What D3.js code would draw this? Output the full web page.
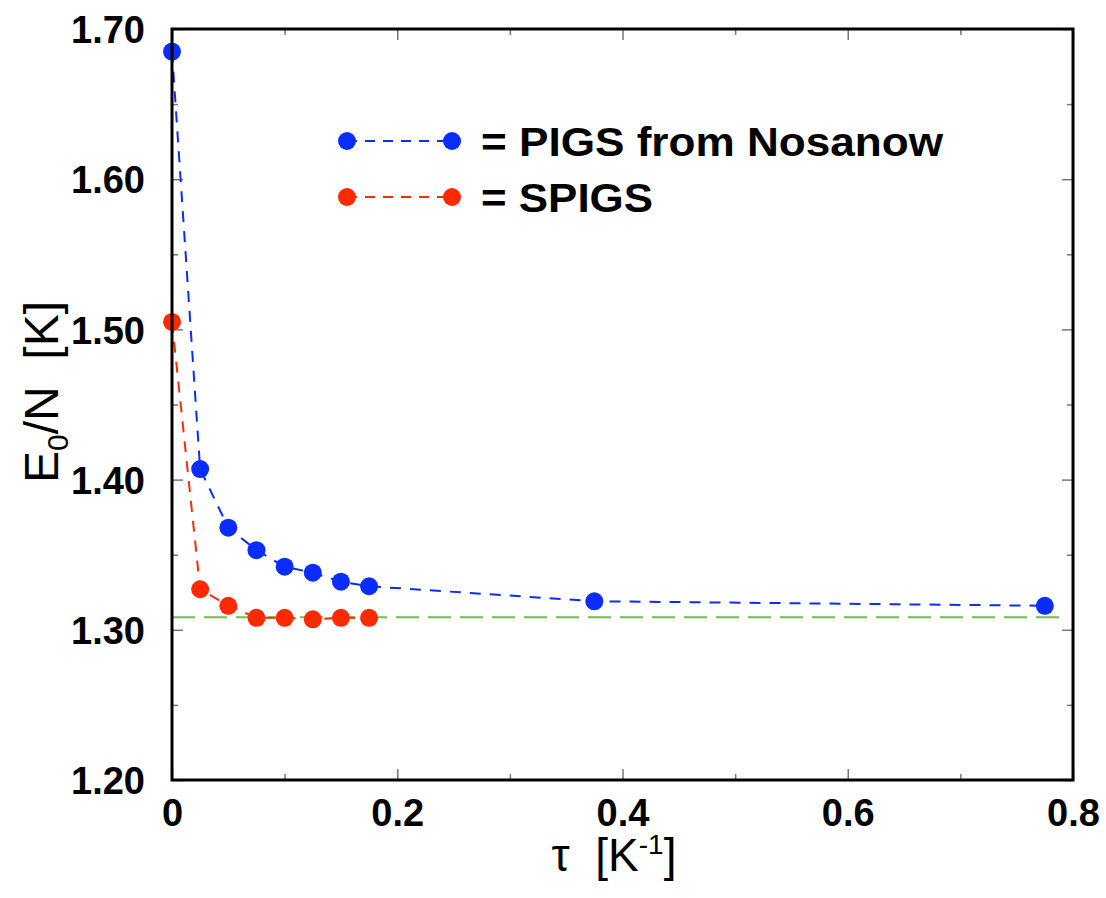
<!DOCTYPE html>
<html>
<head>
<meta charset="utf-8">
<script src="https://cdn.jsdelivr.net/npm/d3@7"></script>
<style>
  body { margin: 0; background: #fff; }
  svg { display: block; font-family: "Liberation Sans", Arial, sans-serif; }
  .tick line { stroke: #777; stroke-width: 1.5; }
  .domain { display: none; }
  .ticklabel text { font-size: 38px; font-weight: bold; fill: #000; }
  .title { white-space: pre; }
</style>
</head>
<body>
<svg id="chart"></svg>
<script>
// tau values [1/K]
const tauPigs = [0, 0.025, 0.05, 0.075, 0.1, 0.125, 0.15, 0.175, 0.375, 0.775];
const energyPigs = [1.685, 1.407, 1.368, 1.353, 1.342, 1.338, 1.332, 1.329, 1.319, 1.316];
const tauSpigs = [0, 0.025, 0.05, 0.075, 0.1, 0.125, 0.15, 0.175];
const energySpigs = [1.505, 1.327, 1.316, 1.308, 1.308, 1.307, 1.308, 1.308];
const referenceEnergy = 1.3083;

const xMajor = [0, 0.2, 0.4, 0.6, 0.8];
const xMinor = [0.1, 0.3, 0.5, 0.7];
const yMajor = [1.2, 1.3, 1.4, 1.5, 1.6, 1.7];
const yMinor = [1.25, 1.35, 1.45, 1.55, 1.65];

const legendLabels = ['= PIGS from Nosanow', '= SPIGS'];
const colors = ['#0a2cff', '#ff2a00'];

const width = 1106, height = 898;
const margin = {top: 29, right: 33, bottom: 118, left: 172};
const innerW = width - margin.left - margin.right;
const innerH = height - margin.top - margin.bottom;

const svg = d3.select('#chart').attr('width', width).attr('height', height);
const g = svg.append('g').attr('transform', `translate(${margin.left},${margin.top})`);

const x = d3.scaleLinear().domain([0, 0.8]).range([0, innerW]);
const y = d3.scaleLinear().domain([1.2, 1.7]).range([innerH, 0]);

// major ticks with labels (bottom + left), inward
g.append('g')
  .attr('class', 'ticklabel')
  .attr('transform', `translate(0,${innerH})`)
  .call(d3.axisBottom(x).tickValues(xMajor).tickSize(-11).tickPadding(19)
    .tickFormat(d => d === 0 ? '0' : d3.format('.1f')(d)));

g.append('g')
  .attr('class', 'ticklabel')
  .call(d3.axisLeft(y).tickValues(yMajor).tickSize(-11).tickPadding(27)
    .tickFormat(d3.format('.2f')))
  .selectAll('text').attr('dy', '0.36em');

// mirrored / minor ticks
g.append('g').attr('transform', `translate(0,${innerH})`)
  .call(d3.axisBottom(x).tickValues(xMinor).tickSize(-6).tickFormat(''));
g.append('g')
  .call(d3.axisTop(x).tickValues(xMajor).tickSize(-11).tickFormat(''));
g.append('g')
  .call(d3.axisTop(x).tickValues(xMinor).tickSize(-6).tickFormat(''));
g.append('g')
  .call(d3.axisLeft(y).tickValues(yMinor).tickSize(-6).tickFormat(''));
g.append('g').attr('transform', `translate(${innerW},0)`)
  .call(d3.axisRight(y).tickValues(yMajor).tickSize(-11).tickFormat(''));
g.append('g').attr('transform', `translate(${innerW},0)`)
  .call(d3.axisRight(y).tickValues(yMinor).tickSize(-6).tickFormat(''));

// reference line
g.append('line')
  .attr('x1', x(0)).attr('x2', x(0.79))
  .attr('y1', y(referenceEnergy)).attr('y2', y(referenceEnergy))
  .attr('stroke', '#6cc24a').attr('stroke-width', 2)
  .attr('stroke-dasharray', '23,9');

const series = [
  {tau: tauPigs, e: energyPigs},
  {tau: tauSpigs, e: energySpigs},
];

const line = d3.line().x(d => x(d[0])).y(d => y(d[1]));

series.forEach((s, i) => {
  const pts = s.tau.map((t, j) => [t, s.e[j]]);
  g.append('path')
    .datum(pts)
    .attr('d', line)
    .attr('fill', 'none')
    .attr('stroke', colors[i])
    .attr('stroke-width', 2)
    .attr('stroke-dasharray', '11,9');
  g.selectAll(null)
    .data(pts)
    .enter()
    .append('circle')
    .attr('cx', d => x(d[0]))
    .attr('cy', d => y(d[1]))
    .attr('r', 9)
    .attr('fill', colors[i]);
});

// frame
g.append('rect')
  .attr('width', innerW).attr('height', innerH)
  .attr('fill', 'none').attr('stroke', '#000').attr('stroke-width', 3);

// legend
const legendWidths = [462, 172];
const legend = g.append('g').attr('transform', `translate(${347 - margin.left},${141 - margin.top})`);
legendLabels.forEach((lab, i) => {
  const row = legend.append('g').attr('transform', `translate(0,${i * 56})`);
  row.append('line')
    .attr('x1', 0).attr('x2', 105)
    .attr('stroke', colors[i]).attr('stroke-width', 2)
    .attr('stroke-dasharray', '10,8');
  row.selectAll('circle')
    .data([0, 105])
    .enter()
    .append('circle')
    .attr('cx', d => d).attr('r', 9).attr('fill', colors[i]);
  row.append('text')
    .attr('x', 134).attr('y', 15)
    .attr('font-size', 41).attr('font-weight', 'bold')
    .attr('textLength', legendWidths[i])
    .attr('lengthAdjust', 'spacingAndGlyphs')
    .text(lab);
});

// axis titles
const xt = svg.append('text')
  .attr('class', 'title')
  .attr('x', 614).attr('y', 871)
  .attr('text-anchor', 'middle')
  .attr('font-size', 46);
xt.append('tspan').text('\u03c4  [K');
xt.append('tspan').attr('font-size', 28).attr('dy', -17).text('-1');
xt.append('tspan').attr('dy', 17).text(']');

const yt = svg.append('text')
  .attr('class', 'title')
  .attr('transform', 'translate(58,392) rotate(-90)')
  .attr('text-anchor', 'middle')
  .attr('font-size', 48);
yt.append('tspan').text('E');
yt.append('tspan').attr('font-size', 30).attr('dy', 10).text('0');
yt.append('tspan').attr('dy', -10).text('/N  [K]');
</script>
</body>
</html>
